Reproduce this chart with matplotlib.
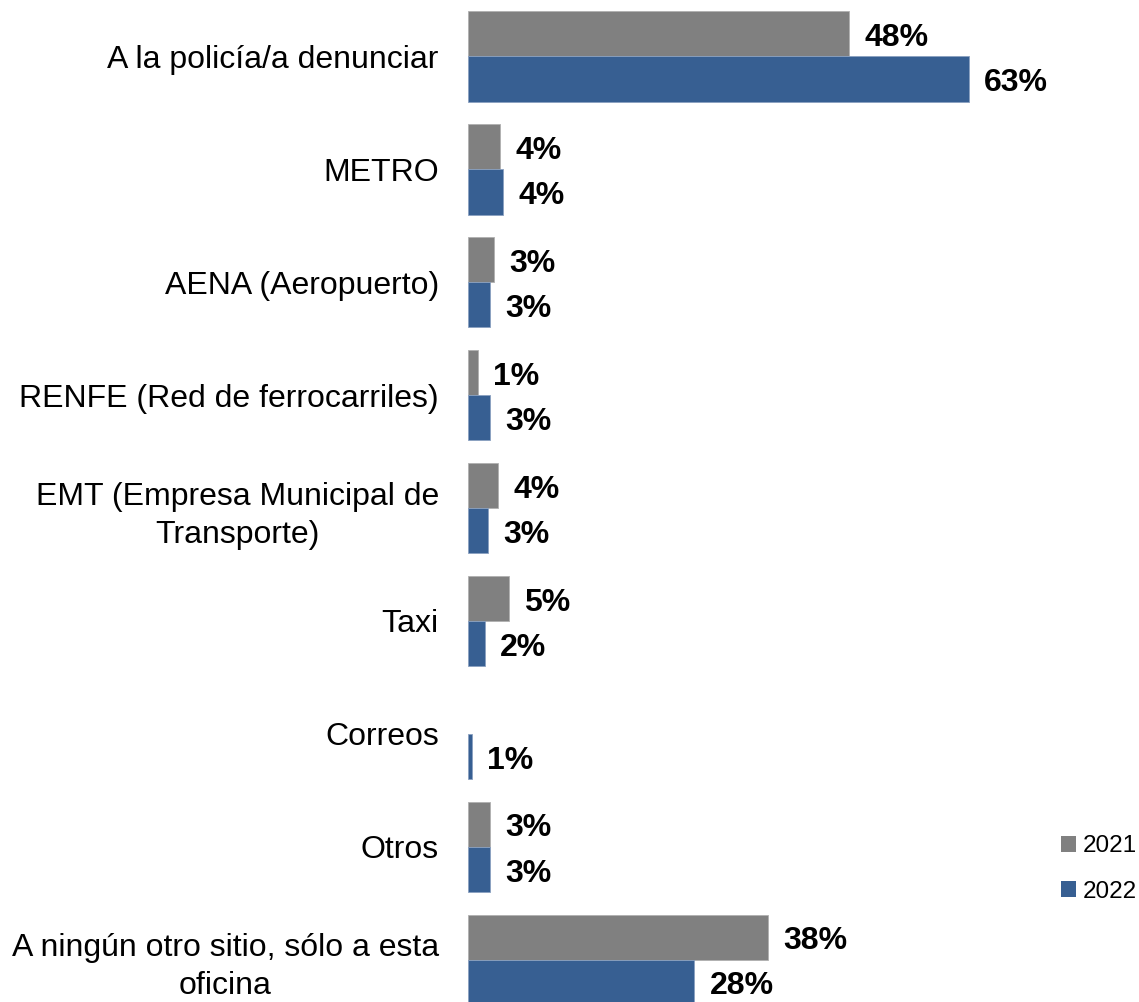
import matplotlib
matplotlib.use("Agg")
import matplotlib.pyplot as plt
from matplotlib.patches import Patch
import numpy as np

plt.rcParams['font.family'] = ['Liberation Sans', 'DejaVu Sans']

categories = [
    'A la policía/a denunciar',
    'METRO',
    'AENA (Aeropuerto)',
    'RENFE (Red de ferrocarriles)',
    'EMT (Empresa Municipal de\nTransporte)',
    'Taxi',
    'Correos',
    'Otros',
    'A ningún otro sitio, sólo a esta\noficina',
]
vals_2021 = [48, 4.0, 3.3, 1.2, 3.8, 5.1, 0, 2.8, 37.7]
vals_2022 = [63, 4.4, 2.8, 2.8, 2.5, 2.1, 0.5, 2.8, 28.5]
labels_2021 = ['48%', '4%', '3%', '1%', '4%', '5%', '', '3%', '38%']
labels_2022 = ['63%', '4%', '3%', '3%', '3%', '2%', '1%', '3%', '28%']

gray = '#808080'
blue = '#375F92'

fig = plt.figure(figsize=(11.39, 10.02), dpi=100)
ax = fig.add_axes([468 / 1139, 0, 596 / 1139, 1.0])

y = np.arange(len(categories))
h = 0.4
lw1 = [0.6 if v > 0 else 0 for v in vals_2021]
lw2 = [0.6 if v > 0 else 0 for v in vals_2022]
ax.barh(y - h / 2, vals_2021, height=h, color=gray, edgecolor='#b0b0b0', linewidth=lw1)
ax.barh(y + h / 2, vals_2022, height=h, color=blue, edgecolor='#8aa0c0', linewidth=lw2)

# value labels to the right of each bar
for yy, v, t in zip(y - h / 2, vals_2021, labels_2021):
    ax.annotate(t, (v, yy), xytext=(11, -3), textcoords='offset points',
                va='center', ha='left', fontsize=23, fontweight='bold')
for yy, v, t in zip(y + h / 2, vals_2022, labels_2022):
    ax.annotate(t, (v, yy), xytext=(11, -3), textcoords='offset points',
                va='center', ha='left', fontsize=23, fontweight='bold')

ax.set_xlim(0, 75)
ax.set_ylim(8.375, -0.5)
ax.set_yticks(y)
ax.set_yticklabels(categories, fontsize=23)
ax.tick_params(axis='y', length=0, pad=21)
ax.set_xticks([])
for s in ax.spines.values():
    s.set_visible(False)

# right-align tick labels while keeping multi-line text centered
for lbl in ax.get_yticklabels():
    lbl.set_horizontalalignment('right')
    lbl.set_multialignment('center')
    lbl.set_linespacing(1.35)

handles = [Patch(facecolor=gray), Patch(facecolor=blue)]
fig.legend(handles, ['2021', '2022'], loc='center left',
           bbox_to_anchor=(1061 / 1139, 1 - 869 / 1002),
           frameon=False, fontsize=17.5, handlelength=0.6, handleheight=0.6,
           handletextpad=0.3, labelspacing=0.95, borderpad=0, borderaxespad=0)

fig.savefig('out.png', dpi=100)
